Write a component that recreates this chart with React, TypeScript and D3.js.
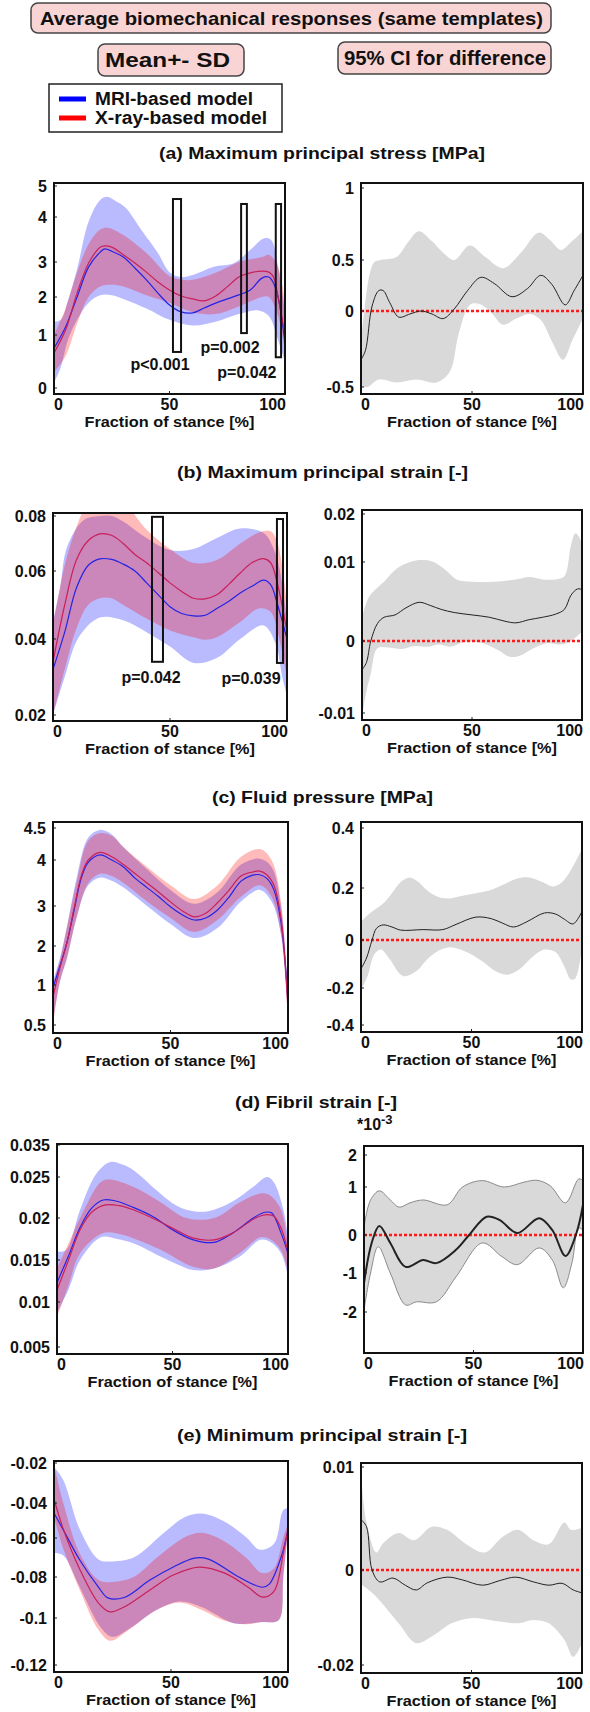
import React from "react";
import * as d3 from "d3";

type Pt = [number, number];

const FONT = "'Liberation Sans', Arial, Helvetica, sans-serif";

const mainTitle = "Average biomechanical responses (same templates)";
const leftHeader = "Mean+- SD";
const rightHeader = "95% CI for difference";
const legendLabels = ["MRI-based model", "X-ray-based model"];
const xTicks = [0, 50, 100];
const xAxisLabel = "Fraction of stance [%]";

// ---------- (a) Maximum principal stress
const aTitle = "(a) Maximum principal stress [MPa]";
const aYTicks = [0, 1, 2, 3, 4, 5];
const aDiffYTicks = [-0.5, 0, 0.5, 1];
const aMriMean: Pt[] = [[0,0.75],[5,1.21],[10,2.0],[15,2.86],[20,3.22],[22,3.29],[25,3.24],[30,3.11],[35,2.83],[40,2.49],[45,2.11],[50,1.79],[55,1.61],[60,1.58],[65,1.71],[70,1.84],[75,1.95],[80,2.06],[85,2.2],[90,2.54],[93,2.57],[95,2.4],[97,2.0],[100,0.85]];
const aXrayMean: Pt[] = [[0,0.66],[5,1.13],[10,2.11],[15,2.97],[20,3.33],[22,3.36],[25,3.33],[30,3.16],[35,2.97],[40,2.71],[45,2.43],[50,2.2],[55,2.03],[60,1.95],[65,1.9],[70,2.03],[75,2.29],[80,2.57],[85,2.69],[90,2.74],[93,2.71],[95,2.57],[97,2.0],[100,1.0]];
const aMriUpper: Pt[] = [[0,1.35],[3,1.4],[6,1.9],[10,2.8],[15,3.9],[20,4.55],[23,4.65],[27,4.5],[31,4.3],[38,3.7],[45,3.2],[50,2.71],[55,2.57],[60,2.63],[69,2.86],[78,2.97],[85,3.27],[91,3.53],[94,3.49],[97,2.86],[100,1.58]];
const aMriLower: Pt[] = [[0,0.1],[3,0.4],[6,0.9],[10,1.4],[15,1.85],[20,2.05],[25,2.05],[30,1.95],[40,1.7],[50,1.4],[60,1.25],[70,1.35],[80,1.55],[88,1.65],[93,1.5],[97,0.9],[100,0.5]];
const aXrayUpper: Pt[] = [[0,1.0],[5,1.7],[10,2.7],[15,3.4],[20,3.72],[23,3.76],[30,3.6],[40,3.2],[50,2.6],[55,2.5],[60,2.49],[70,2.69],[80,3.0],[90,3.11],[93,3.16],[97,2.86],[100,1.8]];
const aXrayLower: Pt[] = [[0,0.3],[5,0.6],[10,1.3],[15,2.0],[20,2.3],[25,2.35],[30,2.3],[40,2.05],[50,1.85],[60,1.6],[70,1.55],[80,1.75],[90,2.0],[93,2.0],[97,1.5],[100,0.7]];
const aDiffMean: Pt[] = [[0,-0.32],[2,-0.26],[5,0.05],[8,0.2],[10,0.2],[13,0.08],[17,-0.04],[22,-0.02],[27,0.0],[32,-0.02],[37,-0.05],[42,0.02],[48,0.2],[54,0.33],[60,0.27],[68,0.14],[75,0.22],[81,0.35],[86,0.26],[92,0.06],[96,0.2],[100,0.35]];
const aDiffUpper: Pt[] = [[0,-0.2],[2,0.1],[4,0.37],[6,0.48],[9,0.5],[16,0.52],[21,0.62],[26,0.7],[32,0.63],[37,0.55],[42,0.5],[49,0.6],[56,0.52],[64,0.42],[72,0.55],[80,0.69],[85,0.64],[90,0.57],[95,0.63],[100,0.7]];
const aDiffLower: Pt[] = [[0,-0.5],[3,-0.5],[8,-0.45],[16,-0.47],[25,-0.45],[34,-0.47],[40,-0.4],[44,-0.15],[49,0.06],[53,0.07],[58,0.0],[64,-0.09],[70,-0.05],[76,-0.02],[81,-0.06],[86,-0.2],[91,-0.32],[95,-0.2],[100,-0.05]];
const aSig = [
  { from: 51.5, to: 55, top: 4.58, bottom: 0.68 },
  { from: 81, to: 83.5, top: 4.42, bottom: 1.05 },
  { from: 96, to: 98.3, top: 4.42, bottom: 0.58 },
];
const aSigLabels = [
  { t: 45.9, v: 0.45, text: "p<0.001" },
  { t: 76.2, v: 0.77, text: "p=0.002" },
  { t: 83.5, v: 0.3, text: "p=0.042" },
];

// ---------- (b) Maximum principal strain
const bTitle = "(b) Maximum principal strain [-]";
const bYTicks = [0.02, 0.04, 0.06, 0.08];
const bDiffYTicks = [-0.01, 0, 0.01, 0.02];
const bMriMean: Pt[] = [[0,0.032],[5,0.042],[10,0.055],[15,0.062],[20,0.0644],[25,0.0642],[30,0.0625],[35,0.06],[40,0.0565],[45,0.053],[50,0.0495],[55,0.0475],[60,0.0468],[65,0.047],[70,0.049],[75,0.051],[80,0.0535],[85,0.0555],[90,0.0573],[93,0.056],[96,0.05],[100,0.04]];
const bXrayMean: Pt[] = [[0,0.034],[5,0.05],[10,0.064],[15,0.071],[20,0.0735],[25,0.073],[30,0.07],[35,0.066],[40,0.063],[45,0.0595],[50,0.0565],[55,0.054],[60,0.052],[65,0.0518],[70,0.053],[75,0.056],[80,0.0594],[85,0.063],[90,0.0645],[93,0.063],[96,0.056],[100,0.042]];
const bMriUpper: Pt[] = [[0,0.045],[3,0.055],[6,0.0687],[13,0.0785],[20,0.08],[25,0.08],[30,0.078],[40,0.072],[50,0.0676],[60,0.068],[70,0.072],[80,0.0755],[90,0.0738],[94,0.0687],[97,0.06],[100,0.045]];
const bMriLower: Pt[] = [[0,0.02],[5,0.03],[11,0.0405],[20,0.0463],[30,0.0455],[40,0.042],[50,0.038],[60,0.0337],[70,0.035],[80,0.04],[90,0.044],[95,0.039],[98,0.03],[100,0.025]];
const bXrayUpper: Pt[] = [[0,0.044],[5,0.062],[10,0.076],[15,0.085],[20,0.088],[30,0.085],[40,0.075],[50,0.068],[60,0.063],[70,0.064],[80,0.07],[88,0.074],[93,0.0745],[96,0.07],[100,0.05]];
const bXrayLower: Pt[] = [[0,0.02],[5,0.032],[10,0.043],[15,0.05],[20,0.052],[25,0.052],[30,0.05],[40,0.046],[50,0.0425],[60,0.0405],[65,0.0398],[70,0.0405],[80,0.045],[88,0.049],[93,0.048],[96,0.042],[100,0.03]];
const bDiffMean: Pt[] = [[0,-0.004],[2,-0.003],[4,0],[7,0.0022],[10,0.003],[15,0.0033],[20,0.0042],[26,0.0049],[31,0.0045],[36,0.004],[42,0.0036],[50,0.0033],[58,0.003],[65,0.0025],[70,0.0023],[76,0.0027],[82,0.003],[88,0.0034],[92,0.004],[95,0.0058],[98,0.0066],[100,0.0065]];
const bDiffUpper: Pt[] = [[0,0.003],[3,0.0055],[6,0.0065],[10,0.0075],[15,0.009],[20,0.0098],[26,0.0104],[32,0.0101],[38,0.009],[43,0.0078],[50,0.0075],[60,0.0075],[70,0.0078],[76,0.0081],[82,0.0078],[88,0.0078],[92,0.0082],[95,0.0135],[97,0.016],[99,0.015],[100,0.013]];
const bDiffLower: Pt[] = [[0,-0.0105],[2,-0.007],[4,-0.0045],[7,-0.001],[12,-0.0009],[18,-0.0011],[24,-0.0007],[30,-0.0008],[35,-0.0005],[40,-0.0008],[47,-0.0001],[55,-0.0003],[62,-0.0013],[67,-0.0022],[72,-0.002],[78,-0.001],[84,-0.0003],[90,-0.0005],[95,0],[100,0.0012]];
const bSig = [
  { from: 42.3, to: 47, top: 0.0797, bottom: 0.034 },
  { from: 95.7, to: 98.3, top: 0.0789, bottom: 0.0337 },
];
const bSigLabels = [
  { t: 41.9, v: 0.03, text: "p=0.042" },
  { t: 84.6, v: 0.0297, text: "p=0.039" },
];

// ---------- (c) Fluid pressure
const cTitle = "(c) Fluid pressure [MPa]";
const cYTicks = [0.5, 1, 2, 3, 4, 4.5];
const cDiffYTicks = [-0.4, -0.2, 0, 0.2, 0.4];
const cMriMean: Pt[] = [[0,0.97],[3,1.5],[6,2.1],[9,2.9],[12,3.6],[15,3.95],[20,4.08],[25,4.0],[30,3.85],[35,3.6],[40,3.4],[45,3.2],[50,2.98],[55,2.78],[60,2.65],[65,2.7],[70,2.9],[75,3.2],[80,3.54],[85,3.67],[88,3.68],[91,3.6],[94,3.35],[97,2.6],[100,0.8]];
const cXrayMean: Pt[] = [[0,0.85],[3,1.45],[6,2.1],[9,2.95],[12,3.65],[15,4.0],[20,4.12],[25,4.05],[30,3.9],[35,3.7],[40,3.5],[45,3.3],[50,3.09],[55,2.88],[60,2.73],[65,2.82],[70,3.07],[75,3.35],[80,3.65],[85,3.74],[88,3.76],[91,3.68],[94,3.45],[97,2.7],[100,0.7]];
const cMriUpper: Pt[] = [[0,1.1],[3,1.7],[6,2.5],[10,3.6],[15,4.35],[20,4.47],[25,4.4],[30,4.2],[40,3.8],[50,3.35],[60,3.05],[70,3.3],[80,3.9],[88,4.02],[93,3.85],[97,3.0],[100,0.9]];
const cMriLower: Pt[] = [[0,0.55],[3,1.1],[6,1.7],[10,2.7],[15,3.45],[20,3.62],[25,3.55],[30,3.4],[40,3.0],[50,2.55],[60,2.2],[70,2.45],[80,3.1],[88,3.35],[93,3.1],[97,2.3],[100,0.6]];
const cXrayUpper: Pt[] = [[0,1.0],[3,1.65],[6,2.5],[10,3.5],[15,4.3],[20,4.42],[25,4.38],[30,4.2],[40,3.85],[50,3.45],[60,3.15],[70,3.45],[80,4.05],[88,4.17],[93,4.0],[97,3.1],[100,0.9]];
const cXrayLower: Pt[] = [[0,0.5],[3,1.1],[6,1.7],[10,2.7],[15,3.5],[20,3.7],[25,3.65],[30,3.5],[40,3.1],[50,2.7],[60,2.35],[70,2.65],[80,3.2],[88,3.45],[93,3.2],[97,2.3],[100,0.55]];
const cDiffMean: Pt[] = [[0,-0.12],[2.5,-0.075],[5,0.0],[7,0.045],[10,0.058],[14,0.05],[18,0.038],[28,0.04],[37,0.04],[43,0.06],[52,0.088],[59,0.082],[64,0.065],[69,0.05],[75,0.07],[83,0.104],[88,0.1],[92,0.08],[96,0.062],[100,0.11]];
const cDiffUpper: Pt[] = [[0,0.07],[3,0.095],[6,0.115],[10,0.14],[14,0.18],[18,0.22],[22,0.235],[26,0.22],[30,0.19],[35,0.165],[40,0.16],[46,0.17],[52,0.18],[58,0.19],[64,0.21],[70,0.23],[76,0.235],[82,0.22],[87,0.205],[91,0.22],[95,0.26],[100,0.33]];
const cDiffLower: Pt[] = [[0,-0.21],[3,-0.15],[6,-0.06],[9,-0.04],[13,-0.08],[19,-0.15],[25,-0.13],[30,-0.08],[35,-0.045],[40,-0.03],[45,-0.04],[50,-0.06],[55,-0.09],[60,-0.125],[66,-0.145],[72,-0.12],[77,-0.075],[83,-0.04],[88,-0.05],[92,-0.11],[95,-0.165],[97,-0.16],[100,-0.03]];

// ---------- (d) Fibril strain
const dTitle = "(d) Fibril strain [-]";
const dYTicks = [0.005, 0.01, 0.015, 0.02, 0.025, 0.035];
const dDiffYTicks = [-2, -1, 0, 1, 2];
const dDiffScaleLabel = "*10";
const dDiffScaleExp = "-3";
const dMriMean: Pt[] = [[0,0.0123],[5,0.0155],[10,0.0189],[15,0.0212],[20,0.0222],[25,0.0221],[33,0.0213],[42,0.0201],[50,0.0186],[59,0.0174],[68,0.0171],[76,0.0182],[85,0.02],[90,0.0207],[93,0.0206],[97,0.0182],[100,0.0158]];
const dXrayMean: Pt[] = [[0,0.0114],[5,0.015],[10,0.0186],[15,0.0207],[21,0.0216],[27,0.0215],[33,0.021],[45,0.0195],[52,0.0185],[59,0.0176],[68,0.0174],[76,0.0182],[86,0.02],[91,0.0204],[94,0.0202],[97,0.0188],[100,0.016]];
const dMriUpper: Pt[] = [[0,0.016],[4,0.0162],[10,0.021],[17,0.026],[23,0.0297],[28,0.029],[33,0.0272],[43,0.0234],[50,0.0218],[56,0.021],[65,0.0208],[76,0.022],[85,0.0238],[91,0.025],[94,0.0243],[98,0.021],[100,0.0177]];
const dMriLower: Pt[] = [[0,0.0088],[5,0.0115],[10,0.015],[19,0.0177],[26,0.0175],[33,0.017],[45,0.0154],[52,0.0145],[59,0.0138],[68,0.014],[79,0.0154],[88,0.0174],[92,0.0172],[97,0.0158],[100,0.013]];
const dXrayUpper: Pt[] = [[0,0.014],[5,0.017],[10,0.02],[19,0.0244],[23,0.0247],[33,0.0238],[45,0.0219],[56,0.02],[68,0.02],[79,0.0219],[88,0.023],[92,0.0228],[97,0.021],[100,0.0165]];
const dXrayLower: Pt[] = [[0,0.0083],[5,0.012],[10,0.0158],[20,0.0182],[27,0.0181],[33,0.0176],[45,0.0162],[59,0.0142],[68,0.014],[79,0.0158],[88,0.0177],[92,0.0175],[97,0.0162],[100,0.0135]];
const dDiffMean: Pt[] = [[0,-1.26],[3.5,-0.21],[7,0.19],[12,-0.21],[19,-0.84],[27,-0.66],[33,-0.74],[42,-0.39],[48,0],[56,0.38],[62,0.31],[70,0.04],[80,0.35],[86,0.1],[92,-0.55],[97,0.04],[100,0.63]];
const dDiffUpper: Pt[] = [[0,0.17],[3,0.73],[7,0.92],[12,0.73],[16,0.58],[21,0.67],[27,0.73],[38,0.63],[45,1.0],[54,1.2],[64,1.0],[73,1.15],[79,1.21],[85,1.04],[92,0.67],[98,1.25],[100,1.21]];
const dDiffLower: Pt[] = [[0,-1.95],[3,-1.0],[6.5,-0.31],[12,-1.0],[19,-1.82],[24,-1.74],[33,-1.74],[42,-1.1],[54,-0.21],[63,-0.57],[70,-0.78],[80,-0.34],[86,-0.66],[91,-1.38],[95,-0.72],[98,0.15],[100,0.1]];

// ---------- (e) Minimum principal strain
const eTitle = "(e) Minimum principal  strain [-]";
const eYTicks = [-0.12, -0.1, -0.08, -0.06, -0.04, -0.02];
const eDiffYTicks = [-0.02, 0, 0.01];
const eMriMean: Pt[] = [[0,-0.0457],[4,-0.0554],[11,-0.0713],[19,-0.0849],[23,-0.0902],[30,-0.09],[41,-0.0815],[51,-0.0749],[60,-0.0703],[66,-0.0708],[79,-0.08],[89,-0.085],[92,-0.0835],[97,-0.07],[100,-0.055]];
const eXrayMean: Pt[] = [[0,-0.038],[4,-0.055],[11,-0.076],[19,-0.0927],[24,-0.097],[30,-0.0946],[41,-0.0863],[51,-0.079],[62,-0.0749],[73,-0.078],[83,-0.085],[89,-0.0898],[94,-0.087],[98,-0.0677],[100,-0.055]];
const eMriUpper: Pt[] = [[0,-0.022],[4,-0.0286],[11,-0.055],[19,-0.071],[24,-0.072],[34,-0.07],[47,-0.057],[56,-0.048],[63,-0.046],[72,-0.05],[82,-0.0594],[88,-0.066],[94,-0.063],[98,-0.044],[100,-0.043]];
const eMriLower: Pt[] = [[0,-0.0677],[4,-0.069],[11,-0.085],[20,-0.104],[25,-0.108],[33,-0.104],[44,-0.096],[54,-0.092],[63,-0.0946],[76,-0.102],[81,-0.1025],[89,-0.1017],[96,-0.101],[98,-0.08],[100,-0.055]];
const eXrayUpper: Pt[] = [[0,-0.021],[4,-0.04],[11,-0.068],[19,-0.0815],[25,-0.0824],[34,-0.08],[44,-0.07],[56,-0.0594],[63,-0.057],[72,-0.0611],[82,-0.07],[89,-0.078],[94,-0.0755],[98,-0.0594],[100,-0.052]];
const eXrayLower: Pt[] = [[0,-0.048],[4,-0.0657],[11,-0.0863],[19,-0.105],[24,-0.1097],[32,-0.105],[44,-0.096],[54,-0.0925],[63,-0.096],[72,-0.1009],[81,-0.1027],[89,-0.1017],[96,-0.101],[98,-0.08],[100,-0.057]];
const eDiffMean: Pt[] = [[0,0.0049],[2.5,0.0042],[5,0],[8.5,-0.0025],[14.5,-0.0017],[20,-0.0032],[25,-0.0042],[30,-0.0027],[39,-0.0015],[46,-0.0021],[55,-0.0032],[63,-0.0022],[70,-0.0015],[78,-0.0025],[85,-0.0032],[91,-0.0028],[96,-0.0042],[100,-0.0048]];
const eDiffUpper: Pt[] = [[0,0.0095],[2.5,0.0046],[7,0.0017],[10,0.0026],[17,0.0036],[24,0.0029],[32,0.0042],[39,0.0039],[47,0.0026],[56,0.0017],[64,0.0032],[71,0.0039],[78,0.0029],[85,0.0025],[92,0.0046],[95,0.0039],[100,0.0041]];
const eDiffLower: Pt[] = [[0,-0.003],[3,-0.004],[7,-0.0057],[17,-0.0112],[25,-0.0154],[32,-0.014],[41,-0.0112],[51,-0.0101],[58,-0.0105],[71,-0.0112],[78,-0.0105],[85,-0.0112],[92,-0.0147],[96,-0.0183],[100,-0.0154]];

// ---------- styles
const MRI_LINE = "#2424e6";
const XRAY_LINE = "#c8205a";
const MRI_FILL = "#0000ff";
const XRAY_FILL = "#ff0000";
const BAND_OPACITY = 0.27;
const CI_FILL = "#d9d9d9";
const BOX_FILL = "#f9d4d4";

type Box = { x0: number; x1: number; top: number; bot: number; yPos: number[] };

function makeScales(b: Box, ticks: number[]) {
  const x = d3.scaleLinear().domain([0, 100]).range([b.x0, b.x1]);
  const y = d3.scaleLinear().domain(ticks).range(b.yPos);
  const line = d3
    .line<Pt>()
    .x((d) => x(d[0]))
    .y((d) => y(d[1]))
    .curve(d3.curveCatmullRom.alpha(0.5));
  const band = (up: Pt[], lo: Pt[]) =>
    (line(up) || "") + (line([...lo].reverse()) || "").replace(/^M/, "L") + "Z";
  return { x, y, line, band };
}

function Axes({ b, ticks, x, y }: any) {
  const tickLabel = (v: number) => String(v);
  return (
    <g fontFamily={FONT} fontWeight="bold" fill="#111">
      {ticks.map((v: number, i: number) => (
        <g key={"y" + i}>
          <line x1={b.x0} x2={b.x0 + 3} y1={y(v)} y2={y(v)} stroke="#222" strokeWidth={1} />
          <text x={b.x0 - 7} y={y(v)} dy="0.36em" textAnchor="end" fontSize={16}>
            {tickLabel(v)}
          </text>
        </g>
      ))}
      {xTicks.map((v, i) => (
        <g key={"x" + i}>
          {i === 1 && <line x1={x(v)} x2={x(v)} y1={b.bot} y2={b.bot - 3} stroke="#222" strokeWidth={1} />}
          <text
            x={i === 0 ? b.x0 : i === 2 ? b.x1 + 1 : x(v)}
            y={b.bot + 10}
            dy="0.36em"
            textAnchor={i === 0 ? "start" : i === 2 ? "end" : "middle"}
            fontSize={16}
          >
            {v}
          </text>
        </g>
      ))}
      <text
        x={(b.x0 + b.x1) / 2 - 85}
        y={b.bot + 28}
        dy="0.36em"
        fontSize={14}
        textLength={170}
        lengthAdjust="spacingAndGlyphs"
      >
        {xAxisLabel}
      </text>
      <rect x={b.x0} y={b.top} width={b.x1 - b.x0} height={b.bot - b.top} fill="none" stroke="#111" strokeWidth={2} />
    </g>
  );
}

function MeanPlot({ id, b, ticks, mri, xray, sig, sigLabels }: any) {
  const { x, y, line, band } = makeScales(b, ticks);
  return (
    <g>
      <defs>
        <clipPath id={id}>
          <rect x={b.x0} y={b.top} width={b.x1 - b.x0} height={b.bot - b.top} />
        </clipPath>
      </defs>
      <g clipPath={`url(#${id})`}>
        <path d={band(mri.upper, mri.lower)} fill={MRI_FILL} fillOpacity={BAND_OPACITY} />
        <path d={band(xray.upper, xray.lower)} fill={XRAY_FILL} fillOpacity={BAND_OPACITY} />
        <path d={line(mri.mean) || ""} fill="none" stroke={MRI_LINE} strokeWidth={1.2} />
        <path d={line(xray.mean) || ""} fill="none" stroke={XRAY_LINE} strokeWidth={1.2} />
      </g>
      {(sig || []).map((s: any, i: number) => (
        <rect
          key={i}
          x={x(s.from)}
          y={y(s.top)}
          width={x(s.to) - x(s.from)}
          height={y(s.bottom) - y(s.top)}
          fill="none"
          stroke="#111"
          strokeWidth={2}
        />
      ))}
      {(sigLabels || []).map((s: any, i: number) => (
        <text
          key={i}
          x={x(s.t)}
          y={y(s.v)}
          dy="0.36em"
          textAnchor="middle"
          fontFamily={FONT}
          fontWeight="bold"
          fontSize={16}
          fill="#111"
        >
          {s.text}
        </text>
      ))}
      <Axes b={b} ticks={ticks} x={x} y={y} />
    </g>
  );
}

function DiffPlot({ id, b, ticks, diff, edge, thick, exp }: any) {
  const { x, y, line, band } = makeScales(b, ticks);
  return (
    <g>
      <defs>
        <clipPath id={id}>
          <rect x={b.x0} y={b.top} width={b.x1 - b.x0} height={b.bot - b.top} />
        </clipPath>
      </defs>
      <g clipPath={`url(#${id})`}>
        <path
          d={band(diff.upper, diff.lower)}
          fill={CI_FILL}
          stroke={edge ? "#8a8a8a" : "none"}
          strokeWidth={edge ? 1 : 0}
        />
        <line x1={b.x0} x2={b.x1} y1={y(0)} y2={y(0)} stroke="#ff1a1a" strokeWidth={2.5} strokeDasharray="3,2" />
        <path d={line(diff.mean) || ""} fill="none" stroke="#222" strokeWidth={thick ? 2 : 1} />
      </g>
      {exp && (
        <text x={b.x0 - 7} y={b.top - 16} fontFamily={FONT} fontWeight="bold" fontSize={16} fill="#111">
          {exp[0]}
          <tspan dy={-6} fontSize={13}>
            {exp[1]}
          </tspan>
        </text>
      )}
      <Axes b={b} ticks={ticks} x={x} y={y} />
    </g>
  );
}

export default function App() {
  const panels = [
    {
      key: "a", title: aTitle, titleX: 159, titleY: 153, titleW: 326,
      L: { x0: 54, x1: 285, top: 183, bot: 394, yPos: [388, 335, 297, 262, 217, 186] },
      R: { x0: 361, x1: 583, top: 183, bot: 394, yPos: [387, 311, 260, 188] },
      yTicks: aYTicks, dTicks: aDiffYTicks,
      mri: { mean: aMriMean, upper: aMriUpper, lower: aMriLower },
      xray: { mean: aXrayMean, upper: aXrayUpper, lower: aXrayLower },
      diff: { mean: aDiffMean, upper: aDiffUpper, lower: aDiffLower },
      sig: aSig, sigLabels: aSigLabels,
    },
    {
      key: "b", title: bTitle, titleX: 177, titleY: 472, titleW: 291,
      L: { x0: 53, x1: 287, top: 513, bot: 721, yPos: [715, 639, 571, 516] },
      R: { x0: 362, x1: 582, top: 510, bot: 720, yPos: [713, 641, 562, 514] },
      yTicks: bYTicks, dTicks: bDiffYTicks,
      mri: { mean: bMriMean, upper: bMriUpper, lower: bMriLower },
      xray: { mean: bXrayMean, upper: bXrayUpper, lower: bXrayLower },
      diff: { mean: bDiffMean, upper: bDiffUpper, lower: bDiffLower },
      sig: bSig, sigLabels: bSigLabels,
    },
    {
      key: "c", title: cTitle, titleX: 212, titleY: 797, titleW: 221,
      L: { x0: 53, x1: 288, top: 822, bot: 1033, yPos: [1025, 985, 946, 906, 860, 828] },
      R: { x0: 361, x1: 582, top: 822, bot: 1032, yPos: [1025, 988, 940, 888, 828] },
      yTicks: cYTicks, dTicks: cDiffYTicks,
      mri: { mean: cMriMean, upper: cMriUpper, lower: cMriLower },
      xray: { mean: cXrayMean, upper: cXrayUpper, lower: cXrayLower },
      diff: { mean: cDiffMean, upper: cDiffUpper, lower: cDiffLower },
    },
    {
      key: "d", title: dTitle, titleX: 235, titleY: 1102, titleW: 162,
      L: { x0: 57, x1: 288, top: 1144, bot: 1354, yPos: [1347, 1302, 1260, 1218, 1177, 1145] },
      R: { x0: 364, x1: 583, top: 1146, bot: 1353, yPos: [1312, 1273, 1235, 1187, 1155] },
      yTicks: dYTicks, dTicks: dDiffYTicks,
      mri: { mean: dMriMean, upper: dMriUpper, lower: dMriLower },
      xray: { mean: dXrayMean, upper: dXrayUpper, lower: dXrayLower },
      diff: { mean: dDiffMean, upper: dDiffUpper, lower: dDiffLower },
      edge: true, thick: true, exp: [dDiffScaleLabel, dDiffScaleExp],
    },
    {
      key: "e", title: eTitle, titleX: 177, titleY: 1435, titleW: 290,
      L: { x0: 54, x1: 288, top: 1461, bot: 1672, yPos: [1665, 1618, 1577, 1538, 1503, 1463] },
      R: { x0: 361, x1: 582, top: 1463, bot: 1673, yPos: [1665, 1570, 1467] },
      yTicks: eYTicks, dTicks: eDiffYTicks,
      mri: { mean: eMriMean, upper: eMriUpper, lower: eMriLower },
      xray: { mean: eXrayMean, upper: eXrayUpper, lower: eXrayLower },
      diff: { mean: eDiffMean, upper: eDiffUpper, lower: eDiffLower },
    },
  ];

  return (
    <svg
      width={590}
      height={1712}
      viewBox="0 0 590 1712"
      style={{ position: "absolute", left: 0, top: 0, display: "block", background: "#fff" }}
    >
      <rect x={0} y={0} width={590} height={1712} fill="#fff" />
      {/* header */}
      <g fontFamily={FONT} fontWeight="bold" fill="#111">
        <rect x={31} y={3} width={520} height={30} rx={7} fill={BOX_FILL} stroke="#444" strokeWidth={1.5} />
        <text x={40} y={18} dy="0.36em" fontSize={19} textLength={503} lengthAdjust="spacingAndGlyphs">
          {mainTitle}
        </text>
        <rect x={98} y={44} width={146} height={32} rx={7} fill={BOX_FILL} stroke="#444" strokeWidth={1.5} />
        <text x={105} y={60} dy="0.36em" fontSize={20} textLength={125} lengthAdjust="spacingAndGlyphs">
          {leftHeader}
        </text>
        <rect x={338} y={42} width={213} height={32} rx={7} fill={BOX_FILL} stroke="#444" strokeWidth={1.5} />
        <text x={344} y={58} dy="0.36em" fontSize={20} textLength={202} lengthAdjust="spacingAndGlyphs">
          {rightHeader}
        </text>
        <rect x={49} y={84} width={233} height={48} fill="#fff" stroke="#222" strokeWidth={1.5} />
        <line x1={59} x2={86} y1={99} y2={99} stroke="#0000ff" strokeWidth={5} />
        <text x={95} y={99} dy="0.36em" fontSize={18} textLength={158} lengthAdjust="spacingAndGlyphs">
          {legendLabels[0]}
        </text>
        <line x1={59} x2={86} y1={118} y2={118} stroke="#ff0000" strokeWidth={5} />
        <text x={95} y={118} dy="0.36em" fontSize={18} textLength={172} lengthAdjust="spacingAndGlyphs">
          {legendLabels[1]}
        </text>
      </g>
      {panels.map((p) => (
        <g key={p.key}>
          <text
            x={p.titleX}
            y={p.titleY}
            dy="0.36em"
            fontFamily={FONT}
            fontWeight="bold"
            fontSize={17}
            fill="#111"
            textLength={p.titleW}
            lengthAdjust="spacingAndGlyphs"
          >
            {p.title}
          </text>
          <MeanPlot id={"clipL" + p.key} b={p.L} ticks={p.yTicks} mri={p.mri} xray={p.xray} sig={p.sig} sigLabels={p.sigLabels} />
          <DiffPlot id={"clipR" + p.key} b={p.R} ticks={p.dTicks} diff={p.diff} edge={p.edge} thick={p.thick} exp={p.exp} />
        </g>
      ))}
    </svg>
  );
}
